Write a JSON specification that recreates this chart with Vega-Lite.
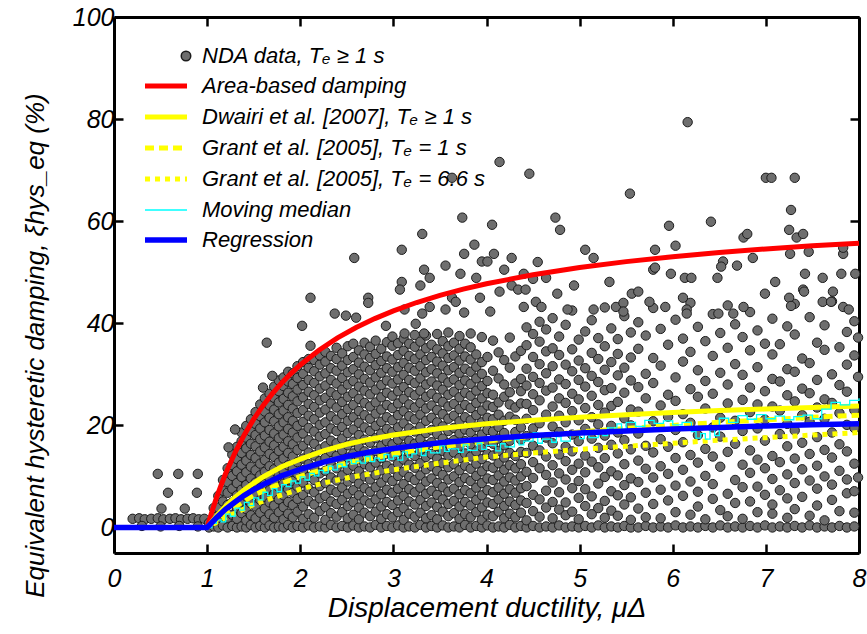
{
"$schema":"https://vega.github.io/schema/vega-lite/v6.json",
"width":745,"height":536,"autosize":"none",
"padding":{"left":114,"top":17,"right":8,"bottom":81},
"background":"white",
"config":{"font":"Liberation Sans","view":{"stroke":null},
 "legend":{"title":null,"orient":"none","padding":0,"labelFont":"Liberation Sans","labelFontSize":22,"labelFontStyle":"italic","labelColor":"#000","labelLimit":600}},
"datasets":{
"pts":[
{"x":0.2,"y":1.7},{"x":0.27,"y":1.8},{"x":0.33,"y":1.6},{"x":0.4,"y":1.7},{"x":0.47,"y":1.8},{"x":0.53,"y":1.6},{"x":0.6,"y":1.7},{"x":0.66,"y":1.8},{"x":0.72,"y":1.6},{"x":0.79,"y":1.7},{"x":0.85,"y":1.8},{"x":0.91,"y":1.6},{"x":0.97,"y":1.7},{"x":0.3,"y":0.3},{"x":0.5,"y":0.2},{"x":0.7,"y":0.3},{"x":0.9,"y":0.2},{"x":0.47,"y":10.5},{"x":0.69,"y":10.5},{"x":0.9,"y":10.5},{"x":0.58,"y":6.8},{"x":0.89,"y":6.8},{"x":0.51,"y":3.7},{"x":0.76,"y":3.7},
{"x":1.02,"y":0},{"x":1.02,"y":0.9},
{"x":1.07,"y":0.2},{"x":1.07,"y":2.1},{"x":1.07,"y":3.8},
{"x":1.12,"y":0},{"x":1.12,"y":1.6},{"x":1.12,"y":3.9},{"x":1.12,"y":6.2},
{"x":1.17,"y":0.4},{"x":1.17,"y":2.7},{"x":1.17,"y":5.1},{"x":1.17,"y":7.2},{"x":1.17,"y":9.3},
{"x":1.22,"y":0},{"x":1.22,"y":1.9},{"x":1.22,"y":4.4},{"x":1.22,"y":6.8},{"x":1.22,"y":8.9},{"x":1.22,"y":11.6},
{"x":1.27,"y":0.3},{"x":1.27,"y":2.5},{"x":1.27,"y":4.9},{"x":1.27,"y":7.6},{"x":1.27,"y":10.1},{"x":1.27,"y":12.2},{"x":1.27,"y":14.3},
{"x":1.32,"y":0},{"x":1.32,"y":1.7},{"x":1.32,"y":3.8},{"x":1.32,"y":6.3},{"x":1.32,"y":8.7},{"x":1.32,"y":11.0},{"x":1.32,"y":13.4},{"x":1.32,"y":15.8},
{"x":1.37,"y":0.2},{"x":1.37,"y":2.8},{"x":1.37,"y":5.2},{"x":1.37,"y":7.4},{"x":1.37,"y":9.9},{"x":1.37,"y":12.3},{"x":1.37,"y":14.6},{"x":1.37,"y":16.9},{"x":1.37,"y":18.6},
{"x":1.42,"y":0},{"x":1.42,"y":1.4},{"x":1.42,"y":3.6},{"x":1.42,"y":6.1},{"x":1.42,"y":8.3},{"x":1.42,"y":10.8},{"x":1.42,"y":13.1},{"x":1.42,"y":15.5},{"x":1.42,"y":17.6},{"x":1.42,"y":19.9},
{"x":1.47,"y":0.5},{"x":1.47,"y":2.4},{"x":1.47,"y":4.7},{"x":1.47,"y":7.0},{"x":1.47,"y":9.6},{"x":1.47,"y":11.9},{"x":1.47,"y":14.2},{"x":1.47,"y":16.4},{"x":1.47,"y":18.8},{"x":1.47,"y":21.2},
{"x":1.52,"y":0},{"x":1.52,"y":1.8},{"x":1.52,"y":4.1},{"x":1.52,"y":6.5},{"x":1.52,"y":8.8},{"x":1.52,"y":11.2},{"x":1.52,"y":13.6},{"x":1.52,"y":15.9},{"x":1.52,"y":18.1},{"x":1.52,"y":20.3},{"x":1.52,"y":22.6},
{"x":1.57,"y":0.3},{"x":1.57,"y":2.9},{"x":1.57,"y":5.4},{"x":1.57,"y":7.7},{"x":1.57,"y":10.2},{"x":1.57,"y":12.5},{"x":1.57,"y":14.9},{"x":1.57,"y":17.3},{"x":1.57,"y":19.4},{"x":1.57,"y":21.8},{"x":1.57,"y":24.1},
{"x":1.62,"y":0},{"x":1.62,"y":1.5},{"x":1.62,"y":3.7},{"x":1.62,"y":6.0},{"x":1.62,"y":8.5},{"x":1.62,"y":10.9},{"x":1.62,"y":13.2},{"x":1.62,"y":15.7},{"x":1.62,"y":18.0},{"x":1.62,"y":20.6},{"x":1.62,"y":22.7},{"x":1.62,"y":25.3},
{"x":1.67,"y":0.4},{"x":1.67,"y":2.6},{"x":1.67,"y":4.9},{"x":1.67,"y":7.3},{"x":1.67,"y":9.7},{"x":1.67,"y":12.0},{"x":1.67,"y":14.4},{"x":1.67,"y":16.8},{"x":1.67,"y":19.1},{"x":1.67,"y":21.5},{"x":1.67,"y":23.9},{"x":1.67,"y":26.2},
{"x":1.72,"y":0},{"x":1.72,"y":1.9},{"x":1.72,"y":4.3},{"x":1.72,"y":6.6},{"x":1.72,"y":8.9},{"x":1.72,"y":11.4},{"x":1.72,"y":13.8},{"x":1.72,"y":16.1},{"x":1.72,"y":18.4},{"x":1.72,"y":20.8},{"x":1.72,"y":23.1},{"x":1.72,"y":25.4},{"x":1.72,"y":27.6},
{"x":1.77,"y":0.2},{"x":1.77,"y":3.0},{"x":1.77,"y":5.5},{"x":1.77,"y":7.9},{"x":1.77,"y":10.3},{"x":1.77,"y":12.7},{"x":1.77,"y":15.0},{"x":1.77,"y":17.5},{"x":1.77,"y":19.8},{"x":1.77,"y":22.2},{"x":1.77,"y":24.5},{"x":1.77,"y":26.7},{"x":1.77,"y":28.8},
{"x":1.82,"y":0},{"x":1.82,"y":1.6},{"x":1.82,"y":4.0},{"x":1.82,"y":6.3},{"x":1.82,"y":8.6},{"x":1.82,"y":11.1},{"x":1.82,"y":13.5},{"x":1.82,"y":15.8},{"x":1.82,"y":18.2},{"x":1.82,"y":20.6},{"x":1.82,"y":22.9},{"x":1.82,"y":25.2},{"x":1.82,"y":27.7},{"x":1.82,"y":29.4},
{"x":1.87,"y":0.5},{"x":1.87,"y":2.7},{"x":1.87,"y":5.0},{"x":1.87,"y":7.5},{"x":1.87,"y":9.8},{"x":1.87,"y":12.2},{"x":1.87,"y":14.6},{"x":1.87,"y":16.9},{"x":1.87,"y":19.3},{"x":1.87,"y":21.6},{"x":1.87,"y":24.0},{"x":1.87,"y":26.4},{"x":1.87,"y":28.6},{"x":1.87,"y":30.5},
{"x":1.92,"y":0},{"x":1.92,"y":2.0},{"x":1.92,"y":4.4},{"x":1.92,"y":6.8},{"x":1.92,"y":9.1},{"x":1.92,"y":11.5},{"x":1.92,"y":13.9},{"x":1.92,"y":16.3},{"x":1.92,"y":18.6},{"x":1.92,"y":20.9},{"x":1.92,"y":23.3},{"x":1.92,"y":25.7},{"x":1.92,"y":28.1},{"x":1.92,"y":30.2},
{"x":1.97,"y":0.3},{"x":1.97,"y":3.1},{"x":1.97,"y":5.6},{"x":1.97,"y":8.0},{"x":1.97,"y":10.5},{"x":1.97,"y":12.8},{"x":1.97,"y":15.2},{"x":1.97,"y":17.6},{"x":1.97,"y":19.9},{"x":1.97,"y":22.4},{"x":1.97,"y":24.7},{"x":1.97,"y":27.0},{"x":1.97,"y":29.3},{"x":1.97,"y":31.6},
{"x":2.03,"y":0},{"x":2.03,"y":1.7},{"x":2.03,"y":4.1},{"x":2.03,"y":6.4},{"x":2.03,"y":8.8},{"x":2.03,"y":11.2},{"x":2.03,"y":13.5},{"x":2.03,"y":16.0},{"x":2.03,"y":18.4},{"x":2.03,"y":20.7},{"x":2.03,"y":23.0},{"x":2.03,"y":25.5},{"x":2.03,"y":27.9},{"x":2.03,"y":30.1},{"x":2.03,"y":32.4},
{"x":2.09,"y":0.4},{"x":2.09,"y":2.6},{"x":2.09,"y":5.2},{"x":2.09,"y":7.6},{"x":2.09,"y":9.9},{"x":2.09,"y":12.4},{"x":2.09,"y":14.7},{"x":2.09,"y":17.1},{"x":2.09,"y":19.5},{"x":2.09,"y":21.9},{"x":2.09,"y":24.2},{"x":2.09,"y":26.6},{"x":2.09,"y":28.9},{"x":2.09,"y":31.3},{"x":2.09,"y":33.0},
{"x":2.15,"y":0},{"x":2.15,"y":1.9},{"x":2.15,"y":4.5},{"x":2.15,"y":6.9},{"x":2.15,"y":9.3},{"x":2.15,"y":11.7},{"x":2.15,"y":14.1},{"x":2.15,"y":16.4},{"x":2.15,"y":18.8},{"x":2.15,"y":21.2},{"x":2.15,"y":23.6},{"x":2.15,"y":25.9},{"x":2.15,"y":28.3},{"x":2.15,"y":30.6},{"x":2.15,"y":32.8},
{"x":2.21,"y":0.2},{"x":2.21,"y":3.2},{"x":2.21,"y":5.7},{"x":2.21,"y":8.1},{"x":2.21,"y":10.6},{"x":2.21,"y":13.0},{"x":2.21,"y":15.3},{"x":2.21,"y":17.8},{"x":2.21,"y":20.1},{"x":2.21,"y":22.5},{"x":2.21,"y":24.9},{"x":2.21,"y":27.2},{"x":2.21,"y":29.6},{"x":2.21,"y":31.9},{"x":2.21,"y":33.7},
{"x":2.27,"y":0},{"x":2.27,"y":1.5},{"x":2.27,"y":4.0},{"x":2.27,"y":6.2},{"x":2.27,"y":8.7},{"x":2.27,"y":11.1},{"x":2.27,"y":13.6},{"x":2.27,"y":15.9},{"x":2.27,"y":18.3},{"x":2.27,"y":20.6},{"x":2.27,"y":23.1},{"x":2.27,"y":25.4},{"x":2.27,"y":27.8},{"x":2.27,"y":30.2},{"x":2.27,"y":32.5},{"x":2.27,"y":34.4},
{"x":2.33,"y":0.5},{"x":2.33,"y":2.8},{"x":2.33,"y":5.1},{"x":2.33,"y":7.4},{"x":2.33,"y":9.8},{"x":2.33,"y":12.3},{"x":2.33,"y":14.8},{"x":2.33,"y":17.0},{"x":2.33,"y":19.4},{"x":2.33,"y":21.8},{"x":2.33,"y":24.3},{"x":2.33,"y":26.5},{"x":2.33,"y":28.9},{"x":2.33,"y":31.2},{"x":2.33,"y":33.6},
{"x":2.39,"y":0},{"x":2.39,"y":2.1},{"x":2.39,"y":4.6},{"x":2.39,"y":6.9},{"x":2.39,"y":9.2},{"x":2.39,"y":11.6},{"x":2.39,"y":14.0},{"x":2.39,"y":16.5},{"x":2.39,"y":18.9},{"x":2.39,"y":21.1},{"x":2.39,"y":23.5},{"x":2.39,"y":25.9},{"x":2.39,"y":28.2},{"x":2.39,"y":30.7},{"x":2.39,"y":33.0},{"x":2.39,"y":35.2},
{"x":2.45,"y":0.3},{"x":2.45,"y":3.0},{"x":2.45,"y":5.4},{"x":2.45,"y":7.8},{"x":2.45,"y":10.2},{"x":2.45,"y":12.6},{"x":2.45,"y":15.1},{"x":2.45,"y":17.4},{"x":2.45,"y":19.7},{"x":2.45,"y":22.2},{"x":2.45,"y":24.6},{"x":2.45,"y":27.0},{"x":2.45,"y":29.3},{"x":2.45,"y":31.7},{"x":2.45,"y":34.1},
{"x":2.51,"y":0},{"x":2.51,"y":1.8},{"x":2.51,"y":4.2},{"x":2.51,"y":6.6},{"x":2.51,"y":9.0},{"x":2.51,"y":11.3},{"x":2.51,"y":13.7},{"x":2.51,"y":16.1},{"x":2.51,"y":18.5},{"x":2.51,"y":20.9},{"x":2.51,"y":23.2},{"x":2.51,"y":25.6},{"x":2.51,"y":28.0},{"x":2.51,"y":30.4},{"x":2.51,"y":32.8},{"x":2.51,"y":35.5},
{"x":2.57,"y":0.4},{"x":2.57,"y":2.5},{"x":2.57,"y":5.0},{"x":2.57,"y":7.3},{"x":2.57,"y":9.7},{"x":2.57,"y":12.1},{"x":2.57,"y":14.5},{"x":2.57,"y":16.8},{"x":2.57,"y":19.2},{"x":2.57,"y":21.6},{"x":2.57,"y":24.0},{"x":2.57,"y":26.3},{"x":2.57,"y":28.7},{"x":2.57,"y":31.0},{"x":2.57,"y":33.4},{"x":2.57,"y":36.0},
{"x":2.63,"y":0},{"x":2.63,"y":1.6},{"x":2.63,"y":3.9},{"x":2.63,"y":6.3},{"x":2.63,"y":8.6},{"x":2.63,"y":11.0},{"x":2.63,"y":13.4},{"x":2.63,"y":15.7},{"x":2.63,"y":18.1},{"x":2.63,"y":20.5},{"x":2.63,"y":22.8},{"x":2.63,"y":25.2},{"x":2.63,"y":27.6},{"x":2.63,"y":30.0},{"x":2.63,"y":32.3},{"x":2.63,"y":34.7},
{"x":2.69,"y":0.2},{"x":2.69,"y":2.9},{"x":2.69,"y":5.3},{"x":2.69,"y":7.7},{"x":2.69,"y":10.0},{"x":2.69,"y":12.4},{"x":2.69,"y":14.9},{"x":2.69,"y":17.2},{"x":2.69,"y":19.6},{"x":2.69,"y":22.0},{"x":2.69,"y":24.4},{"x":2.69,"y":26.8},{"x":2.69,"y":29.1},{"x":2.69,"y":31.5},{"x":2.69,"y":33.9},{"x":2.69,"y":36.2},
{"x":2.75,"y":0},{"x":2.75,"y":2.2},{"x":2.75,"y":4.7},{"x":2.75,"y":7.0},{"x":2.75,"y":9.4},{"x":2.75,"y":11.8},{"x":2.75,"y":14.2},{"x":2.75,"y":16.6},{"x":2.75,"y":18.9},{"x":2.75,"y":21.3},{"x":2.75,"y":23.7},{"x":2.75,"y":26.1},{"x":2.75,"y":28.4},{"x":2.75,"y":30.8},{"x":2.75,"y":33.2},{"x":2.75,"y":35.4},
{"x":2.81,"y":0.5},{"x":2.81,"y":3.1},{"x":2.81,"y":5.5},{"x":2.81,"y":7.9},{"x":2.81,"y":10.3},{"x":2.81,"y":12.7},{"x":2.81,"y":15.0},{"x":2.81,"y":17.5},{"x":2.81,"y":19.9},{"x":2.81,"y":22.3},{"x":2.81,"y":24.5},{"x":2.81,"y":27.0},{"x":2.81,"y":29.4},{"x":2.81,"y":31.8},{"x":2.81,"y":34.0},{"x":2.81,"y":36.6},
{"x":2.87,"y":0},{"x":2.87,"y":1.7},{"x":2.87,"y":4.1},{"x":2.87,"y":6.5},{"x":2.87,"y":8.8},{"x":2.87,"y":11.2},{"x":2.87,"y":13.6},{"x":2.87,"y":16.0},{"x":2.87,"y":18.4},{"x":2.87,"y":20.7},{"x":2.87,"y":23.1},{"x":2.87,"y":25.5},{"x":2.87,"y":27.9},{"x":2.87,"y":30.3},{"x":2.87,"y":32.6},{"x":2.87,"y":35.0},
{"x":2.93,"y":0.3},{"x":2.93,"y":2.6},{"x":2.93,"y":5.0},{"x":2.93,"y":7.4},{"x":2.93,"y":9.8},{"x":2.93,"y":12.1},{"x":2.93,"y":14.5},{"x":2.93,"y":16.9},{"x":2.93,"y":19.3},{"x":2.93,"y":21.6},{"x":2.93,"y":24.0},{"x":2.93,"y":26.4},{"x":2.93,"y":28.8},{"x":2.93,"y":31.2},{"x":2.93,"y":33.5},{"x":2.93,"y":36.3},
{"x":2.99,"y":0},{"x":2.99,"y":2.0},{"x":2.99,"y":4.4},{"x":2.99,"y":6.8},{"x":2.99,"y":9.1},{"x":2.99,"y":11.5},{"x":2.99,"y":13.9},{"x":2.99,"y":16.3},{"x":2.99,"y":18.7},{"x":2.99,"y":21.0},{"x":2.99,"y":23.4},{"x":2.99,"y":25.8},{"x":2.99,"y":28.2},{"x":2.99,"y":30.5},{"x":2.99,"y":32.9},{"x":2.99,"y":35.6},{"x":2.99,"y":37.4},
{"x":3.05,"y":0.4},{"x":3.05,"y":3.0},{"x":3.05,"y":5.3},{"x":3.05,"y":7.6},{"x":3.05,"y":10.1},{"x":3.05,"y":12.5},{"x":3.05,"y":14.8},{"x":3.05,"y":17.2},{"x":3.05,"y":19.6},{"x":3.05,"y":22.0},{"x":3.05,"y":24.3},{"x":3.05,"y":26.7},{"x":3.05,"y":29.0},{"x":3.05,"y":31.4},{"x":3.05,"y":33.8},{"x":3.05,"y":36.1},
{"x":3.11,"y":0},{"x":3.11,"y":1.5},{"x":3.11,"y":3.8},{"x":3.11,"y":6.2},{"x":3.11,"y":8.5},{"x":3.11,"y":10.9},{"x":3.11,"y":13.3},{"x":3.11,"y":15.7},{"x":3.11,"y":18.0},{"x":3.11,"y":20.4},{"x":3.11,"y":22.8},{"x":3.11,"y":25.2},{"x":3.11,"y":27.5},{"x":3.11,"y":29.9},{"x":3.11,"y":32.2},{"x":3.11,"y":34.6},{"x":3.11,"y":37.0},
{"x":3.17,"y":0.2},{"x":3.17,"y":2.7},{"x":3.17,"y":5.1},{"x":3.17,"y":7.5},{"x":3.17,"y":9.9},{"x":3.17,"y":12.3},{"x":3.17,"y":14.6},{"x":3.17,"y":17.0},{"x":3.17,"y":19.4},{"x":3.17,"y":21.8},{"x":3.17,"y":24.1},{"x":3.17,"y":26.5},{"x":3.17,"y":28.9},{"x":3.17,"y":31.3},{"x":3.17,"y":33.6},{"x":3.17,"y":36.0},
{"x":3.23,"y":0},{"x":3.23,"y":2.1},{"x":3.23,"y":4.5},{"x":3.23,"y":6.9},{"x":3.23,"y":9.3},{"x":3.23,"y":11.7},{"x":3.23,"y":14.0},{"x":3.23,"y":16.4},{"x":3.23,"y":18.8},{"x":3.23,"y":21.2},{"x":3.23,"y":23.5},{"x":3.23,"y":25.9},{"x":3.23,"y":28.3},{"x":3.23,"y":30.7},{"x":3.23,"y":33.0},{"x":3.23,"y":35.4},{"x":3.23,"y":37.7},
{"x":3.29,"y":0.5},{"x":3.29,"y":2.9},{"x":3.29,"y":5.4},{"x":3.29,"y":7.8},{"x":3.29,"y":10.2},{"x":3.29,"y":12.6},{"x":3.29,"y":14.9},{"x":3.29,"y":17.3},{"x":3.29,"y":19.7},{"x":3.29,"y":22.1},{"x":3.29,"y":24.4},{"x":3.29,"y":26.8},{"x":3.29,"y":29.2},{"x":3.29,"y":31.6},{"x":3.29,"y":33.9},{"x":3.29,"y":36.4},
{"x":3.35,"y":0},{"x":3.35,"y":1.8},{"x":3.35,"y":4.2},{"x":3.35,"y":6.6},{"x":3.35,"y":9.0},{"x":3.35,"y":11.4},{"x":3.35,"y":13.8},{"x":3.35,"y":16.1},{"x":3.35,"y":18.5},{"x":3.35,"y":20.9},{"x":3.35,"y":23.3},{"x":3.35,"y":25.6},{"x":3.35,"y":28.0},{"x":3.35,"y":30.4},{"x":3.35,"y":32.8},{"x":3.35,"y":35.1},{"x":3.35,"y":37.6},
{"x":3.41,"y":0.3},{"x":3.41,"y":2.4},{"x":3.41,"y":4.9},{"x":3.41,"y":7.2},{"x":3.41,"y":9.6},{"x":3.41,"y":12.0},{"x":3.41,"y":14.4},{"x":3.41,"y":16.7},{"x":3.41,"y":19.1},{"x":3.41,"y":21.5},{"x":3.41,"y":23.9},{"x":3.41,"y":26.2},{"x":3.41,"y":28.6},{"x":3.41,"y":31.0},{"x":3.41,"y":33.4},{"x":3.41,"y":35.8},
{"x":3.47,"y":0},{"x":3.47,"y":1.6},{"x":3.47,"y":4.0},{"x":3.47,"y":6.4},{"x":3.47,"y":8.7},{"x":3.47,"y":11.1},{"x":3.47,"y":13.5},{"x":3.47,"y":15.9},{"x":3.47,"y":18.3},{"x":3.47,"y":20.6},{"x":3.47,"y":23.0},{"x":3.47,"y":25.4},{"x":3.47,"y":27.8},{"x":3.47,"y":30.2},{"x":3.47,"y":32.5},{"x":3.47,"y":34.9},{"x":3.47,"y":37.9},
{"x":3.53,"y":0.4},{"x":3.53,"y":3.1},{"x":3.53,"y":5.5},{"x":3.53,"y":7.9},{"x":3.53,"y":10.3},{"x":3.53,"y":12.6},{"x":3.53,"y":15.0},{"x":3.53,"y":17.4},{"x":3.53,"y":19.8},{"x":3.53,"y":22.2},{"x":3.53,"y":24.6},{"x":3.53,"y":27.0},{"x":3.53,"y":29.3},{"x":3.53,"y":31.7},{"x":3.53,"y":34.1},{"x":3.53,"y":36.5},
{"x":3.59,"y":0},{"x":3.59,"y":2.2},{"x":3.59,"y":4.6},{"x":3.59,"y":7.0},{"x":3.59,"y":9.4},{"x":3.59,"y":11.8},{"x":3.59,"y":14.1},{"x":3.59,"y":16.5},{"x":3.59,"y":18.9},{"x":3.59,"y":21.3},{"x":3.59,"y":23.7},{"x":3.59,"y":26.0},{"x":3.59,"y":28.4},{"x":3.59,"y":30.8},{"x":3.59,"y":33.2},{"x":3.59,"y":35.5},{"x":3.59,"y":38.2},
{"x":3.65,"y":0.2},{"x":3.65,"y":2.8},{"x":3.65,"y":5.2},{"x":3.65,"y":7.6},{"x":3.65,"y":10.0},{"x":3.65,"y":12.4},{"x":3.65,"y":14.7},{"x":3.65,"y":17.1},{"x":3.65,"y":19.5},{"x":3.65,"y":21.9},{"x":3.65,"y":24.2},{"x":3.65,"y":26.6},{"x":3.65,"y":29.0},{"x":3.65,"y":31.4},{"x":3.65,"y":33.7},{"x":3.65,"y":36.2},
{"x":3.71,"y":0},{"x":3.71,"y":1.7},{"x":3.71,"y":4.1},{"x":3.71,"y":6.5},{"x":3.71,"y":8.9},{"x":3.71,"y":11.2},{"x":3.71,"y":13.6},{"x":3.71,"y":16.0},{"x":3.71,"y":18.4},{"x":3.71,"y":20.8},{"x":3.71,"y":23.2},{"x":3.71,"y":25.5},{"x":3.71,"y":27.9},{"x":3.71,"y":30.3},{"x":3.71,"y":32.7},{"x":3.71,"y":35.0},{"x":3.71,"y":37.5},
{"x":3.77,"y":0.5},{"x":3.77,"y":2.6},{"x":3.77,"y":5.0},{"x":3.77,"y":7.3},{"x":3.77,"y":9.7},{"x":3.77,"y":12.1},{"x":3.77,"y":14.5},{"x":3.77,"y":16.9},{"x":3.77,"y":19.2},{"x":3.77,"y":21.6},{"x":3.77,"y":24.0},{"x":3.77,"y":26.4},{"x":3.77,"y":28.8},{"x":3.77,"y":31.1},{"x":3.77,"y":33.5},{"x":3.77,"y":36.0},
{"x":3.83,"y":0},{"x":3.83,"y":2.0},{"x":3.83,"y":4.3},{"x":3.83,"y":6.7},{"x":3.83,"y":9.1},{"x":3.83,"y":11.5},{"x":3.83,"y":13.9},{"x":3.83,"y":16.3},{"x":3.83,"y":18.6},{"x":3.83,"y":21.0},{"x":3.83,"y":23.4},{"x":3.83,"y":25.8},{"x":3.83,"y":28.1},{"x":3.83,"y":30.5},{"x":3.83,"y":32.9},{"x":3.83,"y":35.3},{"x":3.83,"y":38.0},
{"x":3.89,"y":0.3},{"x":3.89,"y":3.0},{"x":3.89,"y":5.4},{"x":3.89,"y":7.8},{"x":3.89,"y":10.1},{"x":3.89,"y":12.5},{"x":3.89,"y":14.9},{"x":3.89,"y":17.3},{"x":3.89,"y":19.7},{"x":3.89,"y":22.0},{"x":3.89,"y":24.4},{"x":3.89,"y":26.8},{"x":3.89,"y":29.2},{"x":3.89,"y":31.5},{"x":3.89,"y":33.9},
{"x":3.95,"y":0},{"x":3.95,"y":1.5},{"x":3.95,"y":3.9},{"x":3.95,"y":6.3},{"x":3.95,"y":8.7},{"x":3.95,"y":11.0},{"x":3.95,"y":13.4},{"x":3.95,"y":15.8},{"x":3.95,"y":18.2},{"x":3.95,"y":20.6},{"x":3.95,"y":22.9},{"x":3.95,"y":25.3},{"x":3.95,"y":27.7},{"x":3.95,"y":30.1},{"x":3.95,"y":32.4},{"x":3.95,"y":37.3},
{"x":4.01,"y":0.4},{"x":4.01,"y":2.5},{"x":4.01,"y":4.9},{"x":4.01,"y":7.3},{"x":4.01,"y":9.6},{"x":4.01,"y":12.0},{"x":4.01,"y":14.4},{"x":4.01,"y":16.8},{"x":4.01,"y":19.1},{"x":4.01,"y":21.5},{"x":4.01,"y":23.9},{"x":4.01,"y":26.3},{"x":4.01,"y":28.7},{"x":4.01,"y":33.4},
{"x":4.07,"y":0},{"x":4.07,"y":2.2},{"x":4.07,"y":4.6},{"x":4.07,"y":6.9},{"x":4.07,"y":9.3},{"x":4.07,"y":11.7},{"x":4.07,"y":14.1},{"x":4.07,"y":16.4},{"x":4.07,"y":18.8},{"x":4.07,"y":21.2},{"x":4.07,"y":23.6},{"x":4.07,"y":26.0},{"x":4.07,"y":30.7},{"x":4.07,"y":36.6},
{"x":4.13,"y":0.2},{"x":4.13,"y":3.1},{"x":4.13,"y":5.5},{"x":4.13,"y":7.8},{"x":4.13,"y":10.2},{"x":4.13,"y":12.6},{"x":4.13,"y":15.0},{"x":4.13,"y":17.4},{"x":4.13,"y":19.7},{"x":4.13,"y":22.1},{"x":4.13,"y":24.5},{"x":4.13,"y":29.2},{"x":4.13,"y":34.3},
{"x":4.19,"y":0},{"x":4.19,"y":1.8},{"x":4.19,"y":4.2},{"x":4.19,"y":6.6},{"x":4.19,"y":9.0},{"x":4.19,"y":11.3},{"x":4.19,"y":13.7},{"x":4.19,"y":16.1},{"x":4.19,"y":18.5},{"x":4.19,"y":20.9},{"x":4.19,"y":25.6},{"x":4.19,"y":28.0},{"x":4.19,"y":32.8},
{"x":4.25,"y":0.5},{"x":4.25,"y":2.7},{"x":4.25,"y":5.1},{"x":4.25,"y":7.5},{"x":4.25,"y":9.8},{"x":4.25,"y":12.2},{"x":4.25,"y":14.6},{"x":4.25,"y":17.0},{"x":4.25,"y":21.7},{"x":4.25,"y":24.1},{"x":4.25,"y":26.5},{"x":4.25,"y":31.3},{"x":4.25,"y":37.2},
{"x":4.31,"y":0},{"x":4.31,"y":2.0},{"x":4.31,"y":4.4},{"x":4.31,"y":6.8},{"x":4.31,"y":9.2},{"x":4.31,"y":11.6},{"x":4.31,"y":14.0},{"x":4.31,"y":18.7},{"x":4.31,"y":21.1},{"x":4.31,"y":23.5},{"x":4.31,"y":28.2},{"x":4.31,"y":33.5},
{"x":4.37,"y":0.3},{"x":4.37,"y":2.9},{"x":4.37,"y":5.3},{"x":4.37,"y":7.7},{"x":4.37,"y":10.0},{"x":4.37,"y":12.4},{"x":4.37,"y":14.8},{"x":4.37,"y":17.2},{"x":4.37,"y":19.6},{"x":4.37,"y":24.3},{"x":4.37,"y":26.7},{"x":4.37,"y":29.1},{"x":4.37,"y":34.6},
{"x":4.43,"y":0},{"x":4.43,"y":1.4},{"x":4.43,"y":4.8},{"x":4.43,"y":8.1},{"x":4.43,"y":10.9},{"x":4.43,"y":14.6},{"x":4.43,"y":17.9},{"x":4.43,"y":21.3},{"x":4.43,"y":24.2},{"x":4.43,"y":27.8},{"x":4.43,"y":31.1},{"x":4.43,"y":35.7},{"x":4.43,"y":39.2},
{"x":4.5,"y":0.3},{"x":4.5,"y":3.2},{"x":4.5,"y":6.4},{"x":4.5,"y":9.7},{"x":4.5,"y":12.8},{"x":4.5,"y":16.0},{"x":4.5,"y":19.4},{"x":4.5,"y":23.0},{"x":4.5,"y":26.1},{"x":4.5,"y":29.5},{"x":4.5,"y":33.4},{"x":4.5,"y":37.9},
{"x":4.57,"y":0},{"x":4.57,"y":2.1},{"x":4.57,"y":5.5},{"x":4.57,"y":11.6},{"x":4.57,"y":15.1},{"x":4.57,"y":20.4},{"x":4.57,"y":24.9},{"x":4.57,"y":28.3},{"x":4.57,"y":32.0},{"x":4.57,"y":36.4},{"x":4.57,"y":40.3},
{"x":4.64,"y":0.2},{"x":4.64,"y":3.9},{"x":4.64,"y":7.2},{"x":4.64,"y":10.3},{"x":4.64,"y":13.9},{"x":4.64,"y":17.6},{"x":4.64,"y":22.1},{"x":4.64,"y":26.8},{"x":4.64,"y":30.2},{"x":4.64,"y":34.5},{"x":4.64,"y":38.8},
{"x":4.71,"y":0},{"x":4.71,"y":1.8},{"x":4.71,"y":5.0},{"x":4.71,"y":8.8},{"x":4.71,"y":12.2},{"x":4.71,"y":16.5},{"x":4.71,"y":19.8},{"x":4.71,"y":23.7},{"x":4.71,"y":27.4},{"x":4.71,"y":31.6},{"x":4.71,"y":35.1},{"x":4.71,"y":41.0},
{"x":4.78,"y":0.4},{"x":4.78,"y":3.5},{"x":4.78,"y":6.9},{"x":4.78,"y":10.6},{"x":4.78,"y":14.3},{"x":4.78,"y":18.7},{"x":4.78,"y":21.9},{"x":4.78,"y":25.3},{"x":4.78,"y":29.0},{"x":4.78,"y":33.8},{"x":4.78,"y":37.4},
{"x":4.85,"y":0},{"x":4.85,"y":2.4},{"x":4.85,"y":4.9},{"x":4.85,"y":9.4},{"x":4.85,"y":13.0},{"x":4.85,"y":15.8},{"x":4.85,"y":20.6},{"x":4.85,"y":24.4},{"x":4.85,"y":28.1},{"x":4.85,"y":31.9},{"x":4.85,"y":39.7},
{"x":4.92,"y":0.2},{"x":4.92,"y":3.1},{"x":4.92,"y":7.7},{"x":4.92,"y":11.3},{"x":4.92,"y":14.9},{"x":4.92,"y":18.2},{"x":4.92,"y":22.8},{"x":4.92,"y":26.2},{"x":4.92,"y":30.6},{"x":4.92,"y":34.9},{"x":4.92,"y":42.5},
{"x":4.99,"y":0},{"x":4.99,"y":1.6},{"x":4.99,"y":5.8},{"x":4.99,"y":9.1},{"x":4.99,"y":12.5},{"x":4.99,"y":16.9},{"x":4.99,"y":21.0},{"x":4.99,"y":25.1},{"x":4.99,"y":28.9},{"x":4.99,"y":32.7},{"x":4.99,"y":36.8},
{"x":5.06,"y":0.3},{"x":5.06,"y":4.2},{"x":5.06,"y":7.5},{"x":5.06,"y":10.8},{"x":5.06,"y":14.1},{"x":5.06,"y":19.3},{"x":5.06,"y":23.4},{"x":5.06,"y":27.6},{"x":5.06,"y":31.2},{"x":5.06,"y":38.4},
{"x":5.13,"y":0},{"x":5.13,"y":2.6},{"x":5.13,"y":6.1},{"x":5.13,"y":12.9},{"x":5.13,"y":17.4},{"x":5.13,"y":21.6},{"x":5.13,"y":25.8},{"x":5.13,"y":29.7},{"x":5.13,"y":34.2},{"x":5.13,"y":40.6},
{"x":5.2,"y":0.4},{"x":5.2,"y":3.8},{"x":5.2,"y":8.6},{"x":5.2,"y":11.8},{"x":5.2,"y":15.6},{"x":5.2,"y":20.2},{"x":5.2,"y":24.0},{"x":5.2,"y":28.5},{"x":5.2,"y":33.0},{"x":5.2,"y":37.1},
{"x":5.27,"y":0},{"x":5.27,"y":1.9},{"x":5.27,"y":5.2},{"x":5.27,"y":9.9},{"x":5.27,"y":13.6},{"x":5.27,"y":18.0},{"x":5.27,"y":22.5},{"x":5.27,"y":26.9},{"x":5.27,"y":30.9},{"x":5.27,"y":35.5},{"x":5.27,"y":43.1},
{"x":5.34,"y":0.2},{"x":5.34,"y":3.3},{"x":5.34,"y":7.1},{"x":5.34,"y":11.0},{"x":5.34,"y":16.2},{"x":5.34,"y":19.9},{"x":5.34,"y":23.8},{"x":5.34,"y":27.3},{"x":5.34,"y":32.4},{"x":5.34,"y":39.0},
{"x":5.41,"y":0},{"x":5.41,"y":2.3},{"x":5.41,"y":6.3},{"x":5.41,"y":10.2},{"x":5.41,"y":14.5},{"x":5.41,"y":18.6},{"x":5.41,"y":24.6},{"x":5.41,"y":29.8},{"x":5.41,"y":34.0},{"x":5.41,"y":36.9},
{"x":5.48,"y":0.3},{"x":5.48,"y":4.5},{"x":5.48,"y":8.3},{"x":5.48,"y":12.4},{"x":5.48,"y":17.1},{"x":5.48,"y":21.4},{"x":5.48,"y":26.4},{"x":5.48,"y":31.3},{"x":5.48,"y":41.4},
{"x":5.55,"y":0},{"x":5.55,"y":1.5},{"x":5.55,"y":5.9},{"x":5.55,"y":9.6},{"x":5.55,"y":15.3},{"x":5.55,"y":20.0},{"x":5.55,"y":23.1},{"x":5.55,"y":28.8},{"x":5.55,"y":33.3},{"x":5.55,"y":38.2},
{"x":5.63,"y":0},{"x":5.63,"y":3.7},{"x":5.63,"y":8.9},{"x":5.63,"y":13.1},{"x":5.63,"y":18.4},{"x":5.63,"y":22.7},{"x":5.63,"y":27.5},{"x":5.63,"y":35.0},{"x":5.63,"y":40.2},
{"x":5.71,"y":0.3},{"x":5.71,"y":2.0},{"x":5.71,"y":6.8},{"x":5.71,"y":11.5},{"x":5.71,"y":16.0},{"x":5.71,"y":25.3},{"x":5.71,"y":30.1},{"x":5.71,"y":37.6},
{"x":5.79,"y":0},{"x":5.79,"y":4.6},{"x":5.79,"y":9.8},{"x":5.79,"y":14.7},{"x":5.79,"y":20.8},{"x":5.79,"y":28.3},{"x":5.79,"y":33.2},{"x":5.79,"y":43.0},
{"x":5.87,"y":0.2},{"x":5.87,"y":1.8},{"x":5.87,"y":7.4},{"x":5.87,"y":12.0},{"x":5.87,"y":17.3},{"x":5.87,"y":23.9},{"x":5.87,"y":31.7},{"x":5.87,"y":38.9},
{"x":5.95,"y":0},{"x":5.95,"y":5.3},{"x":5.95,"y":10.5},{"x":5.95,"y":15.8},{"x":5.95,"y":21.7},{"x":5.95,"y":26.0},{"x":5.95,"y":35.8},
{"x":6.03,"y":0.4},{"x":6.03,"y":3.0},{"x":6.03,"y":8.2},{"x":6.03,"y":13.6},{"x":6.03,"y":19.1},{"x":6.03,"y":24.8},{"x":6.03,"y":29.4},{"x":6.03,"y":40.7},
{"x":6.11,"y":0},{"x":6.11,"y":6.2},{"x":6.11,"y":11.3},{"x":6.11,"y":16.7},{"x":6.11,"y":22.2},{"x":6.11,"y":32.5},{"x":6.11,"y":37.0},
{"x":6.19,"y":0.2},{"x":6.19,"y":2.5},{"x":6.19,"y":9.0},{"x":6.19,"y":14.2},{"x":6.19,"y":20.5},{"x":6.19,"y":27.1},{"x":6.19,"y":34.4},{"x":6.19,"y":44.0},
{"x":6.27,"y":0},{"x":6.27,"y":4.1},{"x":6.27,"y":7.0},{"x":6.27,"y":12.7},{"x":6.27,"y":18.1},{"x":6.27,"y":25.6},{"x":6.27,"y":30.8},{"x":6.27,"y":39.3},
{"x":6.35,"y":0.3},{"x":6.35,"y":1.6},{"x":6.35,"y":10.1},{"x":6.35,"y":15.4},{"x":6.35,"y":23.3},{"x":6.35,"y":28.7},{"x":6.35,"y":36.5},
{"x":6.43,"y":0},{"x":6.43,"y":5.6},{"x":6.43,"y":8.5},{"x":6.43,"y":13.9},{"x":6.43,"y":19.6},{"x":6.43,"y":26.2},{"x":6.43,"y":33.6},{"x":6.43,"y":41.8},
{"x":6.51,"y":0.4},{"x":6.51,"y":3.4},{"x":6.51,"y":11.9},{"x":6.51,"y":17.8},{"x":6.51,"y":21.5},{"x":6.51,"y":30.3},{"x":6.51,"y":38.1},
{"x":6.59,"y":0},{"x":6.59,"y":2.2},{"x":6.59,"y":6.6},{"x":6.59,"y":14.8},{"x":6.59,"y":24.3},{"x":6.59,"y":28.0},{"x":6.59,"y":35.2},{"x":6.59,"y":43.5},
{"x":6.67,"y":0.2},{"x":6.67,"y":4.8},{"x":6.67,"y":9.3},{"x":6.67,"y":16.4},{"x":6.67,"y":20.9},{"x":6.67,"y":32.0},{"x":6.67,"y":39.8},
{"x":6.75,"y":0},{"x":6.75,"y":1.7},{"x":6.75,"y":7.9},{"x":6.75,"y":12.3},{"x":6.75,"y":18.9},{"x":6.75,"y":25.0},{"x":6.75,"y":29.9},{"x":6.75,"y":37.3},
{"x":6.83,"y":0.3},{"x":6.83,"y":5.1},{"x":6.83,"y":10.7},{"x":6.83,"y":15.1},{"x":6.83,"y":22.6},{"x":6.83,"y":27.4},{"x":6.83,"y":34.7},{"x":6.83,"y":42.2},
{"x":6.91,"y":0},{"x":6.91,"y":3.0},{"x":6.91,"y":8.0},{"x":6.91,"y":13.3},{"x":6.91,"y":19.4},{"x":6.91,"y":24.1},{"x":6.91,"y":31.4},{"x":6.91,"y":38.6},
{"x":6.99,"y":0.4},{"x":6.99,"y":6.4},{"x":6.99,"y":11.6},{"x":6.99,"y":17.0},{"x":6.99,"y":21.1},{"x":6.99,"y":26.7},{"x":6.99,"y":36.0},
{"x":7.07,"y":0},{"x":7.07,"y":2.7},{"x":7.07,"y":4.5},{"x":7.07,"y":9.5},{"x":7.07,"y":14.0},{"x":7.07,"y":23.7},{"x":7.07,"y":29.1},{"x":7.07,"y":33.9},{"x":7.07,"y":40.9},
{"x":7.15,"y":0.2},{"x":7.15,"y":7.3},{"x":7.15,"y":12.8},{"x":7.15,"y":18.3},{"x":7.15,"y":22.9},{"x":7.15,"y":28.6},{"x":7.15,"y":35.9},
{"x":7.23,"y":0},{"x":7.23,"y":1.9},{"x":7.23,"y":5.7},{"x":7.23,"y":10.4},{"x":7.23,"y":15.9},{"x":7.23,"y":20.3},{"x":7.23,"y":25.9},{"x":7.23,"y":31.0},{"x":7.23,"y":39.4},
{"x":7.31,"y":0.3},{"x":7.31,"y":3.6},{"x":7.31,"y":8.7},{"x":7.31,"y":13.5},{"x":7.31,"y":19.0},{"x":7.31,"y":24.7},{"x":7.31,"y":30.5},{"x":7.31,"y":37.8},{"x":7.31,"y":43.8},
{"x":7.39,"y":0},{"x":7.39,"y":6.0},{"x":7.39,"y":11.4},{"x":7.39,"y":16.6},{"x":7.39,"y":22.0},{"x":7.39,"y":27.2},{"x":7.39,"y":33.1},
{"x":7.47,"y":0.4},{"x":7.47,"y":2.3},{"x":7.47,"y":9.2},{"x":7.47,"y":14.4},{"x":7.47,"y":20.7},{"x":7.47,"y":26.3},{"x":7.47,"y":32.2},{"x":7.47,"y":41.2},
{"x":7.55,"y":0},{"x":7.55,"y":4.3},{"x":7.55,"y":7.6},{"x":7.55,"y":12.1},{"x":7.55,"y":17.7},{"x":7.55,"y":23.5},{"x":7.55,"y":28.9},{"x":7.55,"y":36.2},
{"x":7.63,"y":0.2},{"x":7.63,"y":1.4},{"x":7.63,"y":10.0},{"x":7.63,"y":15.2},{"x":7.63,"y":21.3},{"x":7.63,"y":25.1},{"x":7.63,"y":34.8},{"x":7.63,"y":39.6},
{"x":7.71,"y":0},{"x":7.71,"y":5.4},{"x":7.71,"y":8.4},{"x":7.71,"y":13.7},{"x":7.71,"y":18.6},{"x":7.71,"y":24.4},{"x":7.71,"y":30.0},{"x":7.71,"y":44.3},
{"x":7.79,"y":0.3},{"x":7.79,"y":3.2},{"x":7.79,"y":11.1},{"x":7.79,"y":16.3},{"x":7.79,"y":22.4},{"x":7.79,"y":27.9},{"x":7.79,"y":35.3},
{"x":7.87,"y":0},{"x":7.87,"y":6.7},{"x":7.87,"y":9.4},{"x":7.87,"y":14.9},{"x":7.87,"y":20.1},{"x":7.87,"y":26.6},{"x":7.87,"y":31.9},{"x":7.87,"y":38.3},
{"x":7.95,"y":0.2},{"x":7.95,"y":2.9},{"x":7.95,"y":7.1},{"x":7.95,"y":12.5},{"x":7.95,"y":19.5},{"x":7.95,"y":23.0},{"x":7.95,"y":33.7},{"x":7.95,"y":40.4},
{"x":7.99,"y":37.2},{"x":7.99,"y":9.8},{"x":7.99,"y":29.5},
{"x":4.14,"y":71.6},{"x":4.46,"y":69.3},{"x":3.63,"y":68.5},{"x":5.54,"y":65.4},{"x":3.74,"y":60.7},{"x":4.74,"y":60.7},{"x":4.79,"y":58.3},{"x":4.06,"y":59.3},{"x":3.31,"y":57.5},{"x":3.09,"y":54.4},{"x":3.87,"y":55.4},{"x":3.76,"y":53.6},{"x":4.08,"y":53.6},{"x":3.95,"y":52.1},{"x":4.01,"y":52.1},{"x":4.27,"y":52.8},{"x":4.55,"y":52.0},{"x":5.06,"y":54.4},{"x":5.15,"y":52.8},{"x":3.56,"y":51.3},{"x":3.33,"y":50.5},{"x":3.39,"y":48.9},{"x":4.19,"y":50.5},{"x":3.72,"y":49.7},{"x":3.89,"y":48.9},{"x":3.09,"y":48.1},{"x":3.07,"y":46.6},{"x":3.29,"y":47.4},{"x":4.27,"y":47.4},{"x":4.34,"y":46.6},{"x":4.42,"y":46.6},{"x":4.64,"y":48.9},{"x":4.5,"y":48.7},{"x":4.4,"y":49.7},{"x":4.94,"y":47.4},{"x":5.32,"y":48.1},{"x":4.14,"y":46.2},{"x":4.76,"y":45.8},{"x":3.63,"y":45.0},{"x":3.67,"y":44.2},{"x":3.93,"y":45.0},{"x":3.39,"y":43.2},{"x":3.56,"y":42.7},{"x":4.04,"y":42.3},{"x":4.4,"y":43.2},{"x":4.53,"y":44.2},{"x":4.59,"y":43.2},{"x":4.87,"y":42.7},{"x":5.15,"y":42.7},{"x":5.39,"y":43.2},{"x":5.47,"y":44.0},{"x":5.47,"y":42.3},{"x":5.56,"y":45.8},{"x":5.63,"y":46.2},{"x":3.76,"y":42.1},{"x":3.31,"y":41.9},{"x":3.12,"y":42.7},
{"x":6.16,"y":79.4},{"x":7.0,"y":68.5},{"x":7.06,"y":68.5},{"x":7.31,"y":68.5},{"x":7.27,"y":62.2},{"x":5.96,"y":59.1},{"x":6.41,"y":59.9},{"x":7.25,"y":58.3},{"x":7.33,"y":56.8},{"x":7.4,"y":57.5},{"x":6.76,"y":56.8},{"x":6.8,"y":57.5},{"x":6.03,"y":55.2},{"x":5.81,"y":54.4},{"x":7.26,"y":53.6},{"x":7.46,"y":54.0},{"x":7.83,"y":53.6},{"x":7.83,"y":54.8},{"x":6.86,"y":52.8},{"x":6.54,"y":52.1},{"x":6.52,"y":51.1},{"x":6.69,"y":51.3},{"x":5.79,"y":50.5},{"x":5.81,"y":50.9},{"x":5.98,"y":49.7},{"x":6.13,"y":48.9},{"x":6.2,"y":48.9},{"x":6.48,"y":48.9},{"x":7.1,"y":48.1},{"x":7.42,"y":49.7},{"x":7.61,"y":48.9},{"x":7.81,"y":49.7},{"x":7.96,"y":49.7},{"x":6.99,"y":45.8},{"x":7.4,"y":46.6},{"x":7.41,"y":46.2},{"x":7.72,"y":46.2},{"x":7.61,"y":44.2},{"x":7.7,"y":44.2},{"x":5.75,"y":44.2},{"x":6.11,"y":45.0},{"x":7.25,"y":45.0},{"x":7.27,"y":43.4},{"x":5.92,"y":43.2},{"x":6.15,"y":42.7},{"x":6.15,"y":41.9},{"x":6.76,"y":43.2},{"x":6.65,"y":41.9},{"x":6.49,"y":41.9},{"x":7.83,"y":43.2},{"x":7.89,"y":42.7},
{"x":2.58,"y":52.8},{"x":2.11,"y":45.0},{"x":2.73,"y":45.0},{"x":2.73,"y":44.0},{"x":2.37,"y":41.9},{"x":2.49,"y":41.5},{"x":2.6,"y":41.1},{"x":2.02,"y":39.5},{"x":1.64,"y":36.2},{"x":2.11,"y":35.6},{"x":1.7,"y":29.7},{"x":1.6,"y":27.4},{"x":2.92,"y":39.5},{"x":3.12,"y":38.0},{"x":3.24,"y":39.9},{"x":3.33,"y":38.0},{"x":1.3,"y":19.2},{"x":1.23,"y":15.7}
],
"curves":[
{"s":"AREA","x":0,"y":0},{"s":"AREA","x":1,"y":0},{"s":"AREA","x":1.05,"y":3.03},{"s":"AREA","x":1.1,"y":5.79},{"s":"AREA","x":1.15,"y":8.3},{"s":"AREA","x":1.2,"y":10.61},{"s":"AREA","x":1.3,"y":14.69},{"s":"AREA","x":1.4,"y":18.19},{"s":"AREA","x":1.5,"y":21.22},{"s":"AREA","x":1.6,"y":23.87},{"s":"AREA","x":1.7,"y":26.21},{"s":"AREA","x":1.8,"y":28.29},{"s":"AREA","x":1.9,"y":30.15},{"s":"AREA","x":2,"y":31.83},{"s":"AREA","x":2.2,"y":34.72},{"s":"AREA","x":2.4,"y":37.14},{"s":"AREA","x":2.6,"y":39.18},{"s":"AREA","x":2.8,"y":40.92},{"s":"AREA","x":3,"y":42.44},{"s":"AREA","x":3.25,"y":44.07},{"s":"AREA","x":3.5,"y":45.47},{"s":"AREA","x":3.75,"y":46.68},{"s":"AREA","x":4,"y":47.75},{"s":"AREA","x":4.5,"y":49.51},{"s":"AREA","x":5,"y":50.93},{"s":"AREA","x":5.5,"y":52.08},{"s":"AREA","x":6,"y":53.05},{"s":"AREA","x":6.5,"y":53.87},{"s":"AREA","x":7,"y":54.57},{"s":"AREA","x":7.5,"y":55.17},{"s":"AREA","x":8,"y":55.7},
{"s":"DW","x":0,"y":0},{"s":"DW","x":1,"y":0},{"s":"DW","x":1.1,"y":2.2},{"s":"DW","x":1.2,"y":4.2},{"s":"DW","x":1.3,"y":5.9},{"s":"DW","x":1.4,"y":7.4},{"s":"DW","x":1.5,"y":8.7},{"s":"DW","x":1.6,"y":9.9},{"s":"DW","x":1.8,"y":11.9},{"s":"DW","x":2,"y":13.4},{"s":"DW","x":2.25,"y":15.0},{"s":"DW","x":2.5,"y":16.3},{"s":"DW","x":2.75,"y":17.3},{"s":"DW","x":3,"y":18.1},{"s":"DW","x":3.5,"y":19.4},{"s":"DW","x":4,"y":20.3},{"s":"DW","x":4.5,"y":21.0},{"s":"DW","x":5,"y":21.6},{"s":"DW","x":5.5,"y":22.1},{"s":"DW","x":6,"y":22.5},{"s":"DW","x":6.5,"y":22.9},{"s":"DW","x":7,"y":23.2},{"s":"DW","x":7.5,"y":23.5},{"s":"DW","x":8,"y":23.8},
{"s":"G1","x":0,"y":0},{"s":"G1","x":1,"y":0},{"s":"G1","x":1.1,"y":1.5},{"s":"G1","x":1.25,"y":3.5},{"s":"G1","x":1.5,"y":6.3},{"s":"G1","x":1.75,"y":8.3},{"s":"G1","x":2,"y":10.0},{"s":"G1","x":2.25,"y":11.4},{"s":"G1","x":2.5,"y":12.6},{"s":"G1","x":3,"y":14.4},{"s":"G1","x":3.5,"y":15.8},{"s":"G1","x":4,"y":16.9},{"s":"G1","x":4.5,"y":17.9},{"s":"G1","x":5,"y":18.7},{"s":"G1","x":5.5,"y":19.4},{"s":"G1","x":6,"y":20.0},{"s":"G1","x":6.5,"y":20.6},{"s":"G1","x":7,"y":21.1},{"s":"G1","x":7.5,"y":21.6},{"s":"G1","x":8,"y":22.0},
{"s":"G66","x":0,"y":0},{"s":"G66","x":1,"y":0},{"s":"G66","x":1.1,"y":1.0},{"s":"G66","x":1.25,"y":2.4},{"s":"G66","x":1.5,"y":4.5},{"s":"G66","x":1.75,"y":6.1},{"s":"G66","x":2,"y":7.5},{"s":"G66","x":2.25,"y":8.7},{"s":"G66","x":2.5,"y":9.7},{"s":"G66","x":3,"y":11.3},{"s":"G66","x":3.5,"y":12.6},{"s":"G66","x":4,"y":13.8},{"s":"G66","x":4.5,"y":14.6},{"s":"G66","x":5,"y":15.3},{"s":"G66","x":5.5,"y":15.9},{"s":"G66","x":6,"y":16.5},{"s":"G66","x":6.5,"y":17.1},{"s":"G66","x":7,"y":17.6},{"s":"G66","x":7.5,"y":18.1},{"s":"G66","x":8,"y":18.6},
{"s":"MM","x":0,"y":0},{"s":"MM","x":1,"y":0},{"s":"MM","x":1.05,"y":0.8},{"s":"MM","x":1.1,"y":1.5},{"s":"MM","x":1.15,"y":1.1},{"s":"MM","x":1.2,"y":2.6},{"s":"MM","x":1.25,"y":2.2},{"s":"MM","x":1.3,"y":3.8},{"s":"MM","x":1.35,"y":3.4},{"s":"MM","x":1.4,"y":4.9},{"s":"MM","x":1.45,"y":4.3},{"s":"MM","x":1.5,"y":5.8},{"s":"MM","x":1.55,"y":5.4},{"s":"MM","x":1.6,"y":6.9},{"s":"MM","x":1.65,"y":6.3},{"s":"MM","x":1.7,"y":7.6},{"s":"MM","x":1.75,"y":7.0},{"s":"MM","x":1.8,"y":8.4},{"s":"MM","x":1.85,"y":8.0},{"s":"MM","x":1.9,"y":9.1},{"s":"MM","x":1.95,"y":8.7},{"s":"MM","x":2.0,"y":9.9},{"s":"MM","x":2.05,"y":9.3},{"s":"MM","x":2.1,"y":10.6},{"s":"MM","x":2.15,"y":10.1},{"s":"MM","x":2.2,"y":11.2},{"s":"MM","x":2.25,"y":10.7},{"s":"MM","x":2.3,"y":12.0},{"s":"MM","x":2.35,"y":11.3},{"s":"MM","x":2.4,"y":12.4},{"s":"MM","x":2.45,"y":11.9},{"s":"MM","x":2.5,"y":13.2},{"s":"MM","x":2.55,"y":12.5},{"s":"MM","x":2.6,"y":13.0},{"s":"MM","x":2.65,"y":12.6},{"s":"MM","x":2.7,"y":13.9},{"s":"MM","x":2.75,"y":12.9},{"s":"MM","x":2.8,"y":13.6},{"s":"MM","x":2.85,"y":13.1},{"s":"MM","x":2.9,"y":14.3},{"s":"MM","x":2.95,"y":13.4},{"s":"MM","x":3.0,"y":14.0},{"s":"MM","x":3.05,"y":13.2},{"s":"MM","x":3.1,"y":14.8},{"s":"MM","x":3.15,"y":13.8},{"s":"MM","x":3.2,"y":14.4},{"s":"MM","x":3.25,"y":15.6},{"s":"MM","x":3.3,"y":14.1},{"s":"MM","x":3.35,"y":15.1},{"s":"MM","x":3.4,"y":14.6},{"s":"MM","x":3.5,"y":16.0},{"s":"MM","x":3.55,"y":14.9},{"s":"MM","x":3.6,"y":15.4},{"s":"MM","x":3.7,"y":14.7},{"s":"MM","x":3.75,"y":16.2},{"s":"MM","x":3.8,"y":15.1},{"s":"MM","x":3.9,"y":16.5},{"s":"MM","x":3.95,"y":15.3},{"s":"MM","x":4.0,"y":16.1},{"s":"MM","x":4.1,"y":15.0},{"s":"MM","x":4.15,"y":16.4},{"s":"MM","x":4.2,"y":15.8},{"s":"MM","x":4.3,"y":17.2},{"s":"MM","x":4.35,"y":16.2},{"s":"MM","x":4.4,"y":16.9},{"s":"MM","x":4.5,"y":18.6},{"s":"MM","x":4.55,"y":16.5},{"s":"MM","x":4.6,"y":17.3},{"s":"MM","x":4.7,"y":16.7},{"s":"MM","x":4.75,"y":17.8},{"s":"MM","x":4.8,"y":16.9},{"s":"MM","x":4.9,"y":18.1},{"s":"MM","x":5.0,"y":17.4},{"s":"MM","x":5.05,"y":18.3},{"s":"MM","x":5.1,"y":17.6},{"s":"MM","x":5.2,"y":18.9},{"s":"MM","x":5.25,"y":18.0},{"s":"MM","x":5.3,"y":19.5},{"s":"MM","x":5.4,"y":20.3},{"s":"MM","x":5.45,"y":19.2},{"s":"MM","x":5.5,"y":20.6},{"s":"MM","x":5.6,"y":19.8},{"s":"MM","x":5.7,"y":21.0},{"s":"MM","x":5.8,"y":20.4},{"s":"MM","x":5.9,"y":20.9},{"s":"MM","x":6.0,"y":20.1},{"s":"MM","x":6.1,"y":20.6},{"s":"MM","x":6.2,"y":18.8},{"s":"MM","x":6.25,"y":17.5},{"s":"MM","x":6.3,"y":18.4},{"s":"MM","x":6.35,"y":17.3},{"s":"MM","x":6.4,"y":19.9},{"s":"MM","x":6.45,"y":18.0},{"s":"MM","x":6.5,"y":21.4},{"s":"MM","x":6.6,"y":20.6},{"s":"MM","x":6.7,"y":21.9},{"s":"MM","x":6.8,"y":21.2},{"s":"MM","x":6.9,"y":22.1},{"s":"MM","x":7.0,"y":21.3},{"s":"MM","x":7.1,"y":21.8},{"s":"MM","x":7.2,"y":21.1},{"s":"MM","x":7.3,"y":21.7},{"s":"MM","x":7.4,"y":22.0},{"s":"MM","x":7.5,"y":21.3},{"s":"MM","x":7.6,"y":23.2},{"s":"MM","x":7.7,"y":24.5},{"s":"MM","x":7.8,"y":24.0},{"s":"MM","x":7.9,"y":24.9},{"s":"MM","x":8.0,"y":25.3},
{"s":"REG","x":0,"y":0},{"s":"REG","x":1,"y":0},{"s":"REG","x":1.1,"y":1.9},{"s":"REG","x":1.2,"y":3.6},{"s":"REG","x":1.3,"y":5.0},{"s":"REG","x":1.4,"y":6.3},{"s":"REG","x":1.5,"y":7.4},{"s":"REG","x":1.6,"y":8.4},{"s":"REG","x":1.8,"y":10.1},{"s":"REG","x":2,"y":11.4},{"s":"REG","x":2.25,"y":12.8},{"s":"REG","x":2.5,"y":13.9},{"s":"REG","x":2.75,"y":14.8},{"s":"REG","x":3,"y":15.5},{"s":"REG","x":3.5,"y":16.6},{"s":"REG","x":4,"y":17.4},{"s":"REG","x":4.5,"y":18.0},{"s":"REG","x":5,"y":18.5},{"s":"REG","x":5.5,"y":18.9},{"s":"REG","x":6,"y":19.3},{"s":"REG","x":6.5,"y":19.6},{"s":"REG","x":7,"y":19.9},{"s":"REG","x":7.5,"y":20.1},{"s":"REG","x":8,"y":20.3}
]},
"resolve":{"scale":{"color":"independent"},"axis":{"x":"independent","y":"independent"}},
"layer":[
{"data":{"name":"pts"},
 "mark":{"type":"point","filled":true,"size":88,"stroke":"#1c1c1c","strokeWidth":1,"opacity":1},
 "encoding":{
  "x":{"field":"x","type":"quantitative","scale":{"domain":[0,8],"nice":false,"zero":false},
   "axis":{"orient":"bottom","values":[0,1,2,3,4,5,6,7,8],"grid":false,"tickSize":-9,"tickWidth":2.5,"tickColor":"#000","domainColor":"#000","domainWidth":3,"labelFont":"Liberation Sans","labelFontSize":25,"labelFontStyle":"italic","labelColor":"#000","labelPadding":22,"labelFlush":false,"labelOverlap":false,"title":"Displacement ductility, μΔ","titleFont":"Liberation Sans","titleFontSize":28,"titleFontStyle":"italic","titleFontWeight":"normal","titleColor":"#000","titlePadding":3}},
  "y":{"field":"y","type":"quantitative","scale":{"domain":[-5,100],"nice":false,"zero":false},
   "axis":{"orient":"left","values":[0,20,40,60,80,100],"grid":false,"tickSize":-9,"tickWidth":2.5,"tickColor":"#000","domainColor":"#000","domainWidth":3,"labelFont":"Liberation Sans","labelFontSize":25,"labelFontStyle":"italic","labelColor":"#000","labelPadding":9,"labelFlush":false,"labelOverlap":false,"title":"Equivalent hysteretic damping, ξhys_eq (%)","titleFont":"Liberation Sans","titleFontSize":26,"titleFontStyle":"italic","titleFontWeight":"normal","titleColor":"#000","titlePadding":24,"titleY":328}},
  "color":{"datum":"NDA data, Tₑ ≥ 1 s","type":"nominal","scale":{"range":["#6e6e6e"]},
   "legend":{"legendX":61,"legendY":28,"labelOffset":5,"symbolType":"circle","symbolSize":90}}}},
{"data":{"name":"curves"},"transform":[{"filter":"datum.s=='AREA'"}],
 "mark":{"type":"line","strokeWidth":5,"strokeCap":"butt"},
 "encoding":{
  "x":{"field":"x","type":"quantitative","scale":{"domain":[0,8],"nice":false,"zero":false},"axis":{"orient":"top","values":[0,1,2,3,4,5,6,7,8],"labels":false,"grid":false,"title":null,"tickSize":-9,"tickWidth":2.5,"tickColor":"#000","domainColor":"#000","domainWidth":3}},
  "y":{"field":"y","type":"quantitative","scale":{"domain":[-5,100],"nice":false,"zero":false},"axis":{"orient":"right","values":[0,20,40,60,80,100],"labels":false,"grid":false,"title":null,"tickSize":-9,"tickWidth":2.5,"tickColor":"#000","domainColor":"#000","domainWidth":3}},
  "color":{"datum":"Area-based damping","type":"nominal","scale":{"range":["#ff0000"]},
   "legend":{"legendX":41,"legendY":58,"labelOffset":25,"symbolType":"M-3,0H3","symbolSize":196,"symbolStrokeWidth":5}}}},
{"data":{"name":"curves"},"transform":[{"filter":"datum.s=='DW'"}],
 "mark":{"type":"line","strokeWidth":5,"strokeCap":"butt"},
 "encoding":{"x":{"field":"x","type":"quantitative","scale":{"domain":[0,8],"nice":false,"zero":false},"axis":null},"y":{"field":"y","type":"quantitative","scale":{"domain":[-5,100],"nice":false,"zero":false},"axis":null},
  "color":{"datum":"Dwairi et al. [2007], Tₑ ≥ 1 s","type":"nominal","scale":{"range":["#ffff00"]},
   "legend":{"legendX":41,"legendY":89,"labelOffset":25,"symbolType":"M-3,0H3","symbolSize":196,"symbolStrokeWidth":5}}}},
{"data":{"name":"curves"},"transform":[{"filter":"datum.s=='G1'"}],
 "mark":{"type":"line","strokeWidth":5,"strokeCap":"butt","strokeDash":[9,5]},
 "encoding":{"x":{"field":"x","type":"quantitative","scale":{"domain":[0,8],"nice":false,"zero":false},"axis":null},"y":{"field":"y","type":"quantitative","scale":{"domain":[-5,100],"nice":false,"zero":false},"axis":null},
  "color":{"datum":"Grant et al. [2005], Tₑ = 1 s","type":"nominal","scale":{"range":["#ffff00"]},
   "legend":{"legendX":41,"legendY":120,"labelOffset":25,"symbolType":"M-3,0H3","symbolSize":196,"symbolStrokeWidth":5,"symbolDash":[9,5]}}}},
{"data":{"name":"curves"},"transform":[{"filter":"datum.s=='G66'"}],
 "mark":{"type":"line","strokeWidth":5,"strokeCap":"butt","strokeDash":[5,5]},
 "encoding":{"x":{"field":"x","type":"quantitative","scale":{"domain":[0,8],"nice":false,"zero":false},"axis":null},"y":{"field":"y","type":"quantitative","scale":{"domain":[-5,100],"nice":false,"zero":false},"axis":null},
  "color":{"datum":"Grant et al. [2005], Tₑ = 6.6 s","type":"nominal","scale":{"range":["#ffff00"]},
   "legend":{"legendX":41,"legendY":151,"labelOffset":25,"symbolType":"M-3,0H3","symbolSize":196,"symbolStrokeWidth":5,"symbolDash":[5,5]}}}},
{"data":{"name":"curves"},"transform":[{"filter":"datum.s=='MM'"}],
 "mark":{"type":"line","strokeWidth":1.3,"interpolate":"step-after"},
 "encoding":{"x":{"field":"x","type":"quantitative","scale":{"domain":[0,8],"nice":false,"zero":false},"axis":null},"y":{"field":"y","type":"quantitative","scale":{"domain":[-5,100],"nice":false,"zero":false},"axis":null},
  "color":{"datum":"Moving median","type":"nominal","scale":{"range":["#00ffff"]},
   "legend":{"legendX":41,"legendY":182,"labelOffset":25,"symbolType":"M-3,0H3","symbolSize":196,"symbolStrokeWidth":1.5}}}},
{"data":{"name":"curves"},"transform":[{"filter":"datum.s=='REG'"}],
 "mark":{"type":"line","strokeWidth":5.5,"strokeCap":"butt"},
 "encoding":{"x":{"field":"x","type":"quantitative","scale":{"domain":[0,8],"nice":false,"zero":false},"axis":null},"y":{"field":"y","type":"quantitative","scale":{"domain":[-5,100],"nice":false,"zero":false},"axis":null},
  "color":{"datum":"Regression","type":"nominal","scale":{"range":["#0000ff"]},
   "legend":{"legendX":41,"legendY":212,"labelOffset":25,"symbolType":"M-3,0H3","symbolSize":196,"symbolStrokeWidth":5.5}}}}
]}
